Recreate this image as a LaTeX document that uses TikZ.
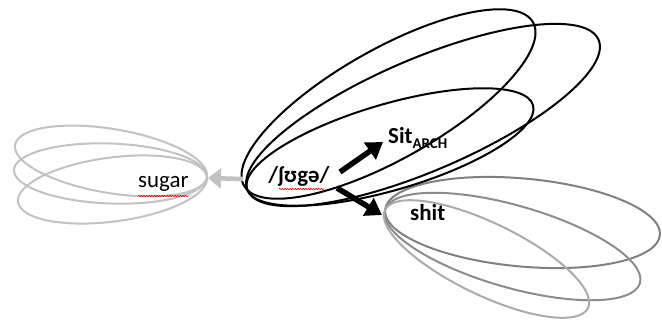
\documentclass[tikz,border=0pt]{standalone}
\usepackage{fontspec}
\setmainfont{Carlito}
\usetikzlibrary{arrows.meta,decorations.pathmorphing}
\begin{document}
\begin{tikzpicture}[x=1bp,y=-1bp,
  blk/.style={draw=black,line width=2bp},
  sug/.style={draw=black!24,line width=2bp},
  sh1/.style={draw=black!50,line width=2bp},
  sh3/.style={draw=black!33,line width=2bp},
  lbl/.style={inner sep=0pt,font=\fontsize{23}{23}\selectfont\bfseries},
  bigarrow/.style={line width=5.5bp,-{Triangle[length=16bp,width=20bp]}},
  grayarrow/.style={draw=black!24,line width=4.5bp,-{Triangle[length=13bp,width=20bp]}},
  squiggle/.style={draw=red!85!black,line width=0.6bp,decorate,decoration={snake,amplitude=0.7bp,segment length=2.6bp}}]
\useasboundingbox (0,0) rectangle (662,321);
% sugar cluster
\draw[sug,rotate around={-9.5:(111,161)}] (111,161) ellipse [x radius=97.3bp,y radius=32bp];
\draw[sug,rotate around={-2.1:(110.5,173.5)}] (110.5,173.5) ellipse [x radius=96.6bp,y radius=30bp];
\draw[sug,rotate around={7.5:(112.5,189.5)}] (112.5,189.5) ellipse [x radius=95.3bp,y radius=32bp];
% shit cluster
\draw[sh1,rotate around={-5.2:(522.5,222.5)}] (522.5,222.5) ellipse [x radius=138bp,y radius=44bp];
\draw[sh1,draw=black!45,rotate around={-16:(512.5,246.5)}] (512.5,246.5) ellipse [x radius=132.6bp,y radius=41bp];
\draw[sh3,rotate around={-25.8:(486.5,259)}] (486.5,259) ellipse [x radius=112.7bp,y radius=36bp];
% black cluster
\draw[blk,rotate around={29.5:(388.5,104)}] (388.5,104) ellipse [x radius=166bp,y radius=55bp];
\draw[blk,rotate around={23.2:(423,115)}] (423,115) ellipse [x radius=191bp,y radius=56bp];
\draw[blk,rotate around={16.3:(390,147)}] (390,147) ellipse [x radius=149bp,y radius=43bp];
% labels
\node[lbl,anchor=base] (ipa) at (299,182) {/ʃʊgə/};
\node[lbl,anchor=base west] (sit) at (388,143) {Sit\raisebox{-5bp}{\fontsize{15}{15}\selectfont ARCH}};
\node[lbl,anchor=base west] (shit) at (410,220) {shit};
\node[inner sep=0pt,anchor=base west,font=\fontsize{23}{23}\selectfont] (sugar) at (138,187) {sugar};
% squiggles
\draw[squiggle] ([shift={(-20,7)}]ipa.base) -- ([shift={(25,7)}]ipa.base);
\draw[squiggle] ([shift={(0,9)}]sugar.base west) -- ([shift={(0,9)}]sugar.base east);
% arrows
\draw[bigarrow] ([shift={(41,-10)}]ipa.base) -- ([shift={(-5,-1)}]sit.base west);
\draw[bigarrow] ([shift={(38,6)}]ipa.base) -- ([shift={(-28,-5)}]shit.base west);
\draw[grayarrow] ([shift={(-56,-3)}]ipa.base) -- ([shift={(70,-9)}]sugar.base west);
\end{tikzpicture}
\end{document}
